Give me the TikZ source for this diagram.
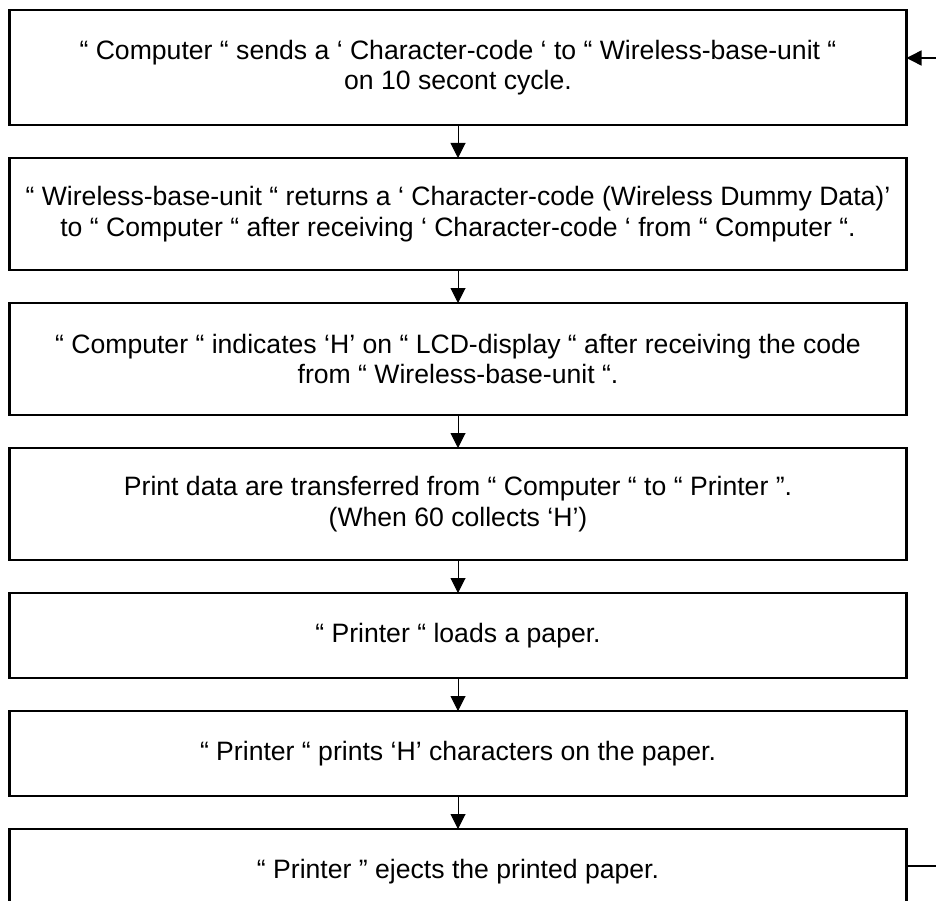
\documentclass[tikz,border=0pt]{standalone}
\usepackage{fontspec}
\setmainfont{Liberation Sans}
\usetikzlibrary{arrows.meta,positioning}

\tikzset{
    stepbox/.style={
        draw,
        line width=2.4pt,
        outer sep=0pt,
        minimum width=897pt,
        align=center,
        font=\fontsize{26.6}{30.5}\selectfont
    },
    tallbox/.style={stepbox, minimum height=112pt},
    lowbox/.style={stepbox, minimum height=85pt},
    flow/.style={
        line width=1pt,
        -{Triangle[length=15pt,width=15pt]}
    }
}

\begin{document}
\begin{tikzpicture}[>=Stealth, scale=1, node distance=33pt]

\clip (0pt,0pt) rectangle (936pt,-901pt);
\useasboundingbox (0pt,0pt) rectangle (936pt,-901pt);

% Caixes del procés
\node[tallbox, minimum height=115pt] (send) at (458pt,-67.5pt)
    {“ Computer “ sends a ‘ Character-code ‘ to “ Wireless-base-unit “\\
     on 10 secont cycle.};

\node[tallbox, below=of send] (reply)
    {“ Wireless-base-unit “ returns a ‘ Character-code (Wireless Dummy Data)’\\
     to “ Computer “ after receiving ‘ Character-code ‘ from “ Computer “.};

\node[tallbox, below=of reply] (lcd)
    {“ Computer “ indicates ‘H’ on “ LCD-display “ after receiving the code\\
     from “ Wireless-base-unit “.};

\node[tallbox, below=of lcd] (transfer)
    {Print data are transferred from “ Computer “ to “ Printer ”.\\
     (When 60 collects ‘H’)};

\node[lowbox, below=of transfer] (load)
    {“ Printer “ loads a paper.};

\node[lowbox, below=of load] (print)
    {“ Printer “ prints ‘H’ characters on the paper.};

\node[lowbox, below=of print] (eject)
    {“ Printer ” ejects the printed paper.};

% Fletxes
\draw[flow] (send) -- (reply);
\draw[flow] (reply) -- (lcd);
\draw[flow] (lcd) -- (transfer);
\draw[flow] (transfer) -- (load);
\draw[flow] (load) -- (print);
\draw[flow] (print) -- (eject);

% Retorn al principi
\coordinate (backout) at (936pt,-866pt);
\coordinate (backin) at (936pt,-58pt);
\draw[line width=1.5pt] (eject.east |- backout) -- (backout);
\draw[flow, line width=1.5pt] (backin) -- (send.east |- backin);

\end{tikzpicture}
\end{document}
